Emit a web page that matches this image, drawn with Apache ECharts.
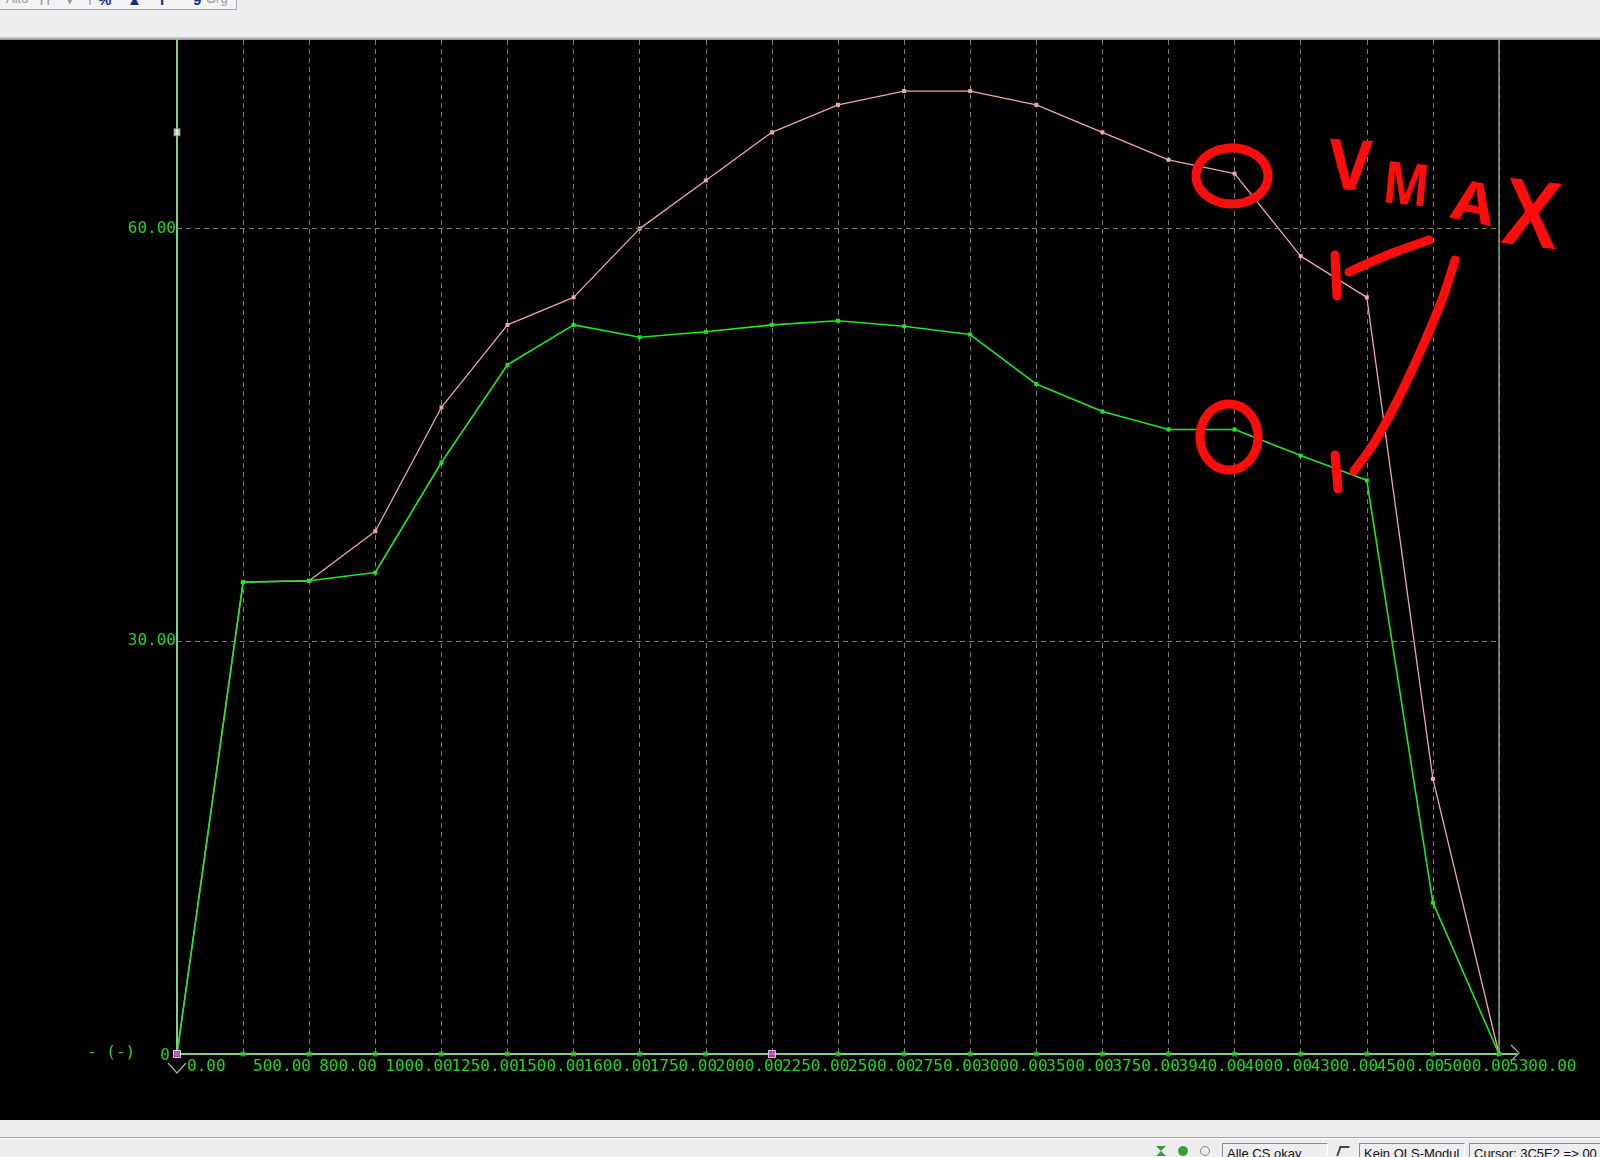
<!DOCTYPE html>
<html>
<head>
<meta charset="utf-8">
<script src="https://cdn.jsdelivr.net/npm/echarts@6/dist/echarts.min.js"></script>
<style>
html,body{margin:0;padding:0;width:1600px;height:1157px;overflow:hidden;background:#edecef;font-family:"Liberation Sans","DejaVu Sans",sans-serif;}
#toolbar{position:absolute;left:0;top:0;width:236px;height:9px;border-right:1px solid #a9a9a9;border-bottom:1px solid #a9a9a9;overflow:hidden;background:#f3f3f5;}
#toolbar span{position:absolute;top:-9px;font-size:15px;font-weight:bold;}
#topline{position:absolute;left:0;top:37px;width:1600px;height:3px;background:linear-gradient(#d8d8da,#8a8a8a);}
#plotbg{position:absolute;left:0;top:40px;width:1600px;height:1080px;background:#000;}
#chart{position:absolute;left:0;top:0;width:1600px;height:1157px;}
#sep{position:absolute;left:0;top:1137px;width:1600px;height:1px;background:#a4a4a4;}
#sep2{position:absolute;left:0;top:1138px;width:1600px;height:1px;background:#ffffff;}
.panel{position:absolute;top:1143px;height:20px;border:1px solid;border-color:#8d8d8d #ffffff #ffffff #8d8d8d;font-size:13px;line-height:14px;padding-left:4px;padding-top:3px;box-sizing:border-box;color:#111;white-space:nowrap;overflow:hidden;}
.ico{position:absolute;top:1146px;width:10px;height:10px;}
</style>
</head>
<body>
<div id="toolbar">
  <span style="left:6px;color:#9a9a9a;font-weight:normal;font-size:13px">Alto</span>
  <span style="left:38px;color:#9a9a9a;font-weight:normal">ᴛᴛ</span>
  <span style="left:66px;color:#9a9a9a;font-weight:normal">▾</span>
  <span style="left:88px;top:-12px;color:#9a9a9a;font-weight:normal">|</span>
  <span style="left:98px;color:#1a2a8a">%</span>
  <span style="left:127px;color:#1a2a8a">▲</span>
  <span style="left:160px;color:#1a2a8a">I</span>
  <span style="left:193px;color:#1a2a8a">9</span>
  <span style="left:206px;color:#9a9a9a;font-weight:normal;font-size:13px">Org</span>
</div>
<div id="topline"></div>
<div id="plotbg"></div>
<div id="sep"></div><div id="sep2"></div>
<div class="ico" style="left:1156px;background:#3b9a3b;clip-path:polygon(0 0,100% 0,50% 50%,100% 100%,0 100%,50% 50%);"></div>
<div class="ico" style="left:1178px;background:#3f9a3f;border-radius:50%;"></div>
<div class="ico" style="left:1200px;border:1px solid #888;border-radius:50%;box-sizing:border-box;"></div>
<div class="panel" style="left:1222px;width:106px;">Alle CS okay</div>
<div class="ico" style="left:1338px;border-top:2px solid #444;border-left:2px solid #444;box-sizing:border-box;transform:skewX(-20deg);"></div>
<div class="panel" style="left:1359px;width:106px;">Kein OLS-Modul</div>
<div class="panel" style="left:1469px;width:140px;">Cursor: 3C5E2 =&gt; 00</div>
<div id="chart"></div>
<script>
// ---- data ----
const categories = ['0.00','500.00','800.00','1000.00','1250.00','1500.00','1600.00','1750.00','2000.00','2250.00','2500.00','2750.00','3000.00','3500.00','3750.00','3940.00','4000.00','4300.00','4500.00','5000.00','5300.00'];
const upperValues = [0, 34.3, 34.4, 38.0, 47.0, 53.0, 55.0, 60.0, 63.5, 67.0, 69.0, 70.0, 70.0, 69.0, 67.0, 65.0, 64.0, 58.0, 55.0, 20.0, 0];
const lowerValues = [0, 34.3, 34.4, 35.0, 43.0, 50.1, 53.0, 52.1, 52.5, 53.0, 53.3, 52.9, 52.3, 48.7, 46.7, 45.4, 45.4, 43.5, 41.7, 11.0, 0];
const axisMarkValues = [0,0,0,0,0,0,0,0,0,0,0,0,0,0,0,0,0,0,0,0,0];
const highlightedMarks = [0, 9];
const cursorValue = 67;
const yTickValues = [30, 60];
const yMax = 73.71;
const yInterval = 30;
const yUnitLabel = '- (-)';
const annotationText = ['V', 'M', 'A', 'X'];

const FONT = '"DejaVu Sans Mono","Liberation Mono",monospace';
const LABEL_GREEN = '#22d422';
const AXIS_GREEN = '#88cc88';
const RED = '#ff0c0c';

function handEllipse(cx, cy, rx, ry, startDeg, sweepDeg) {
  const pts = [];
  const n = 60;
  for (let i = 0; i <= n; i++) {
    const a = (startDeg + sweepDeg * i / n) * Math.PI / 180;
    pts.push([cx + rx * Math.cos(a), cy + ry * Math.sin(a)]);
  }
  return pts;
}

const chart = echarts.init(document.getElementById('chart'), null, {renderer: 'canvas'});

const axisMarkData = axisMarkValues.map((v, i) => {
  const hl = highlightedMarks.indexOf(i) >= 0;
  return {
    value: [i, v],
    symbolSize: hl ? 7 : 5,
    itemStyle: hl ? {color: '#e23ce2', borderColor: '#ffffff', borderWidth: 1} : {color: '#1fc81f'}
  };
});

const redLine = (pts) => ({
  type: 'polyline', silent: true, z: 100,
  shape: {points: pts, smooth: 0.3},
  style: {stroke: RED, lineWidth: 9, fill: 'none', lineCap: 'round', lineJoin: 'round'}
});
const redText = (t, x, y, size, rot, sx, weight) => ({
  type: 'text', silent: true, z: 100, x: x, y: y, rotation: rot, scaleX: sx || 1,
  style: {text: t, fill: RED, font: (weight || 'bold') + ' ' + size + 'px "Noto Sans","DejaVu Sans",sans-serif',
          align: 'center', verticalAlign: 'middle', textAlign: 'center', textVerticalAlign: 'middle'}
});

const option = {
  backgroundColor: 'transparent',
  animation: false,
  grid: {left: 177, right: 101, top: 40, bottom: 103, containLabel: false},
  xAxis: {
    type: 'category',
    data: categories,
    boundaryGap: false,
    axisLine: {show: true, lineStyle: {color: AXIS_GREEN, width: 2}},
    axisTick: {show: false},
    axisLabel: {
      interval: 0, hideOverlap: false, align: 'left', margin: 5,
      padding: [0, 0, 0, 10],
      color: LABEL_GREEN, fontFamily: FONT, fontSize: 16
    },
    splitLine: {show: true, interval: 0, lineStyle: {color: '#7c7c7c', type: [5, 4], width: 1}}
  },
  yAxis: {
    type: 'value',
    min: 0, max: yMax, interval: yInterval,
    axisLine: {show: true, lineStyle: {color: AXIS_GREEN, width: 2}},
    axisTick: {show: false},
    splitLine: {show: false},
    axisLabel: {
      margin: 1, color: LABEL_GREEN, fontFamily: FONT, fontSize: 16,
      showMaxLabel: false,
      formatter: function (v) {
        if (v === 0) return '{z|0}';
        return yTickValues.indexOf(v) >= 0 ? v.toFixed(2) : '';
      },
      rich: {z: {padding: [4, 6, 0, 0], color: LABEL_GREEN, fontFamily: FONT, fontSize: 16}}
    }
  },
  series: [
    {
      name: 'grid',
      type: 'scatter',
      z: 2,
      data: [],
      markLine: {
        silent: true, symbol: 'none', animation: false,
        label: {show: false},
        data: yTickValues.map(v => ({yAxis: v, lineStyle: {color: '#7c7c7c', type: [5, 4], width: 1}}))
          .concat([{xAxis: categories[categories.length - 1], lineStyle: {color: '#7fa37f', type: 'solid', width: 1.5}}])
      }
    },
    {
      name: 'upper',
      type: 'line',
      z: 3,
      data: upperValues,
      symbol: 'rect', symbolSize: 4, showAllSymbol: true,
      lineStyle: {color: '#f0a6a6', width: 1.3},
      itemStyle: {color: '#f0a6a6'}
    },
    {
      name: 'lower',
      type: 'line',
      z: 4,
      data: lowerValues,
      symbol: 'rect', symbolSize: 4, showAllSymbol: true,
      lineStyle: {color: '#20e620', width: 1.6},
      itemStyle: {color: '#20e620'}
    },
    {
      name: 'axisMarks',
      type: 'scatter',
      z: 5,
      symbol: 'rect',
      data: axisMarkData
    },
    {
      name: 'cursor',
      type: 'scatter',
      z: 5,
      symbol: 'rect',
      symbolSize: [6, 7],
      data: [[0, cursorValue]],
      itemStyle: {color: '#f4f4f4', borderColor: '#9a9a9a', borderWidth: 1}
    }
  ],
  graphic: [
    {type: 'text', silent: true, x: 87, y: 1053,
     style: {text: yUnitLabel, fill: LABEL_GREEN, font: '16px ' + FONT, verticalAlign: 'middle', textVerticalAlign: 'middle'}},
    {type: 'polyline', silent: true, shape: {points: [[168, 1063], [177, 1073], [186, 1063]]},
     style: {stroke: '#a2b2a2', lineWidth: 1.2, fill: 'none'}},
    {type: 'line', silent: true, shape: {x1: 1499, y1: 1054, x2: 1517, y2: 1054},
     style: {stroke: AXIS_GREEN, lineWidth: 2}},
    {type: 'polyline', silent: true, shape: {points: [[1511, 1045], [1519, 1053], [1511, 1061]]},
     style: {stroke: '#a2b2a2', lineWidth: 1.2, fill: 'none'}},
    // hand-drawn red annotation
    redLine(handEllipse(1232, 176, 36, 28, 200, 375)),
    redLine(handEllipse(1229, 437, 29, 33, 250, 370)),
    redText(annotationText[0], 1350, 170, 70, -0.05, 0.95),
    redText(annotationText[1], 1406, 188, 58, -0.1, 0.85),
    redText(annotationText[2], 1473, 206, 56, -0.2, 1.1),
    redText(annotationText[3], 1531, 220, 92, -0.12, 0.95, '600'),
    redLine([[1335, 255], [1337, 296]]),
    redLine([[1349, 272], [1390, 254], [1429, 240]]),
    redLine([[1455, 260], [1440, 305], [1405, 385], [1376, 440], [1354, 471]]),
    redLine([[1335, 455], [1338, 489]])
  ]
};
chart.setOption(option);
</script>
</body>
</html>
